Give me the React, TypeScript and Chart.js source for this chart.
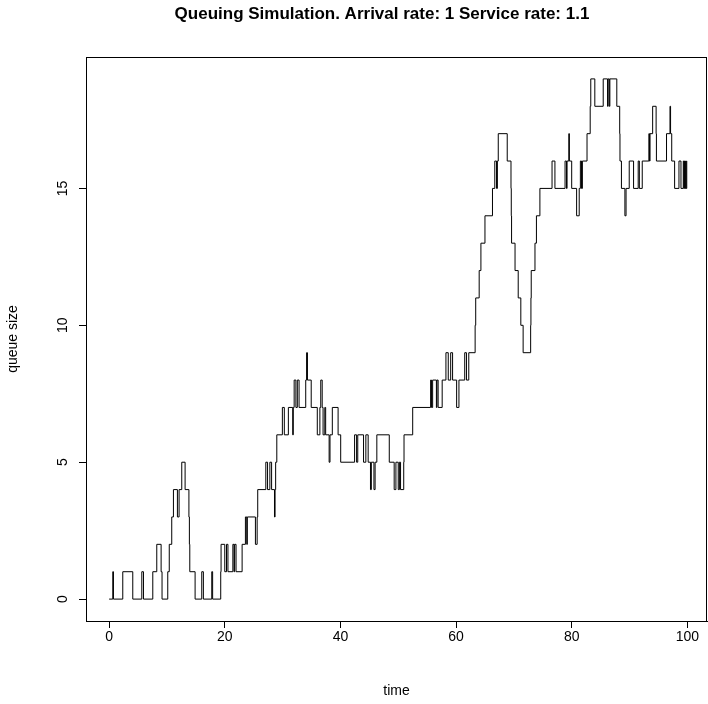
import React, { useEffect, useRef } from "react";
import { Chart, registerables } from "chart.js";

Chart.register(...registerables);

const chartTitle = "Queuing Simulation. Arrival rate: 1 Service rate: 1.1";
const xTitle = "time";
const yTitle = "queue size";
const xTicks = [0, 20, 40, 60, 80, 100];
const yTicks = [0, 5, 10, 15];

const times = [
  0, 0.63, 0.75, 2.36, 4.09, 5.65, 5.94, 7.55, 8.24, 8.99, 9.15, 10.14, 10.4, 10.83, 11.12, 11.81, 12.1, 12.56, 13.14, 13.8,
  13.88, 13.95, 14.87, 16.02, 16.3, 17.75, 17.9, 19.3, 19.36, 20.0, 20.3, 20.55, 21.4, 21.6, 21.7, 21.95, 23.0, 23.57, 23.8, 23.9,
  25.3, 25.6, 25.7, 27.1, 27.4, 27.8, 28.1, 28.6, 28.7, 28.8, 29.0, 29.96, 30.3, 31.0, 31.75, 31.85, 32.0, 32.3, 32.55, 32.85,
  34.0, 34.15, 34.3, 34.95, 36.0, 36.45, 36.6, 36.85, 37.0, 37.3, 37.45, 38.05, 38.2, 38.6, 39.6, 40.05, 42.45, 42.8, 43.0, 44.0,
  44.4, 44.8, 45.2, 45.35, 45.8, 46.0, 46.3, 48.45, 49.3, 49.6, 50.0, 50.2, 50.4, 50.95, 51.0, 52.5, 55.6, 55.75, 55.95, 56.6,
  56.7, 56.9, 57.6, 58.25, 58.65, 59.07, 59.4, 60.1, 60.5, 61.5, 61.8, 62.2, 63.3, 63.4, 64.0, 64.3, 65.0, 66.3, 66.7, 67.0,
  67.15, 67.3, 68.85, 69.5, 69.55, 69.6, 70.2, 70.75, 71.2, 71.6, 72.9, 72.95, 73.0, 73.65, 73.9, 74.5, 76.6, 77.1, 78.85, 79.1,
  79.2, 79.5, 79.6, 80.0, 80.85, 81.3, 81.5, 81.7, 81.85, 82.65, 83.2, 83.3, 84.0, 85.45, 86.2, 86.3, 86.5, 86.6, 87.8, 88.3,
  88.35, 88.6, 89.2, 89.4, 89.95, 90.7, 91.5, 91.7, 92.2, 93.35, 93.45, 93.55, 94.0, 94.6, 94.65, 96.4, 97.0, 97.1, 97.3, 97.8,
  98.55, 98.9, 99.3, 99.4, 99.5, 99.6, 99.7, 99.8, 99.9, 99.95,
];

const sizes = [
  0, 1, 0, 1, 0, 1, 0, 1, 2, 1, 0, 1, 2, 3, 4, 3, 4, 5, 4, 3,
  2, 1, 0, 1, 0, 1, 0, 1, 2, 1, 2, 1, 2, 1, 2, 1, 2, 3, 2, 3,
  2, 3, 4, 5, 4, 5, 4, 3, 4, 5, 6, 7, 6, 7, 6, 7, 8, 7, 8, 7,
  8, 9, 8, 7, 6, 7, 8, 7, 6, 7, 6, 5, 6, 7, 6, 5, 6, 5, 6, 5,
  6, 5, 4, 5, 4, 5, 6, 5, 4, 5, 4, 5, 4, 5, 6, 7, 8, 7, 8, 7,
  8, 7, 8, 9, 8, 9, 8, 7, 8, 9, 8, 9, 10, 11, 12, 13, 14, 15, 16, 15,
  16, 17, 16, 15, 14, 13, 12, 11, 10, 9, 10, 11, 12, 13, 14, 15, 16, 15, 16, 15,
  16, 17, 16, 15, 14, 15, 16, 15, 16, 17, 18, 19, 18, 19, 18, 19, 18, 19, 18, 17,
  16, 15, 14, 15, 16, 15, 16, 15, 16, 17, 16, 17, 18, 17, 16, 17, 18, 17, 16, 15,
  16, 15, 16, 15, 16, 15, 16, 15, 16, 16,
];

const FONT = "'Liberation Sans', Arial, Helvetica, sans-serif";

const frameAndTitle = {
  id: "frameAndTitle",
  afterDraw(chart: any) {
    const { ctx, chartArea } = chart;
    ctx.save();
    ctx.strokeStyle = "#000";
    ctx.lineWidth = 1;
    ctx.strokeRect(
      Math.round(chartArea.left) + 0.5,
      Math.round(chartArea.top) + 0.5,
      Math.round(chartArea.right - chartArea.left) - 1,
      Math.round(chartArea.bottom - chartArea.top)
    );
    ctx.fillStyle = "#000";
    ctx.font = `bold 17px ${FONT}`;
    ctx.textAlign = "center";
    ctx.textBaseline = "middle";
    ctx.fillText(chartTitle, 382, 14);
    ctx.restore();
  },
};

export default function App() {
  const ref = useRef<HTMLCanvasElement | null>(null);

  useEffect(() => {
    if (!ref.current) return;
    const points = times.map((t, i) => ({ x: t, y: sizes[i] }));
    const chart = new Chart(ref.current, {
      type: "line",
      data: {
        datasets: [
          {
            data: points,
            stepped: "before",
            borderColor: "#000",
            borderWidth: 1,
            pointRadius: 0,
            fill: false,
            tension: 0,
          },
        ],
      },
      options: {
        animation: false,
        responsive: false,
        devicePixelRatio: 1,
        layout: { padding: { top: 57, right: 1, left: 0, bottom: 0 } },
        plugins: { legend: { display: false }, tooltip: { enabled: false }, title: { display: false } },
        scales: {
          x: {
            type: "linear",
            min: -4,
            max: 103.4,
            afterFit: (s: any) => {
              s.height = 83;
            },
            afterBuildTicks: (s: any) => {
              s.ticks = xTicks.map((v) => ({ value: v }));
            },
            grid: { display: true, drawOnChartArea: false, drawTicks: true, tickLength: 7, color: "#000", tickColor: "#000" },
            border: { display: true, color: "#000" },
            ticks: { color: "#000", font: { family: FONT, size: 14 }, padding: 1, maxRotation: 0, minRotation: 0, autoSkip: false },
            title: { display: true, text: xTitle, color: "#000", font: { family: FONT, size: 14 }, padding: { top: 0, bottom: 4 } },
          },
          y: {
            type: "linear",
            min: -0.8,
            max: 19.8,
            afterFit: (s: any) => {
              s.width = 86;
            },
            afterBuildTicks: (s: any) => {
              s.ticks = yTicks.map((v) => ({ value: v }));
            },
            grid: { display: true, drawOnChartArea: false, drawTicks: true, tickLength: 7, color: "#000", tickColor: "#000" },
            border: { display: true, color: "#000" },
            ticks: {
              color: "#000",
              font: { family: FONT, size: 14 },
              padding: 8,
              minRotation: 90,
              maxRotation: 90,
              crossAlign: "center",
              autoSkip: false,
            },
            title: { display: true, text: yTitle, color: "#000", font: { family: FONT, size: 14 }, padding: { top: 5, bottom: 0 } },
          },
        },
      },
      plugins: [frameAndTitle],
    } as any);
    return () => chart.destroy();
  }, []);

  return (
    <div style={{ position: "absolute", left: 0, top: 0, width: 708, height: 704, background: "#fff" }}>
      <canvas ref={ref} width={708} height={704} style={{ display: "block", width: 708, height: 704 }} />
    </div>
  );
}
